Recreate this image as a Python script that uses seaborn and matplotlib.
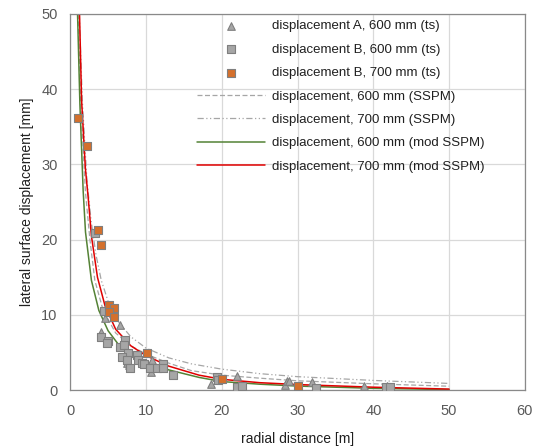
import numpy as np
import pandas as pd
import matplotlib
matplotlib.use('Agg')
import matplotlib.pyplot as plt
import seaborn as sns

# 측정값 (ts)
a600_x = [4.09, 4.55, 6.55, 6.6, 7.5, 7.8, 10.8, 10.65, 12.2, 18.55, 22.0, 28.4, 28.6, 28.9, 31.9, 38.8, 41.8]
a600_y = [7.8, 9.55, 8.6, 5.9, 3.55, 3.3, 4.05, 2.45, 2.9, 0.8, 1.95, 0.75, 1.24, 1.2, 1.05, 0.62, 0.5]

b600_x = [3.3, 4.1, 4.5, 4.97, 4.84, 6.6, 7.26, 7.12, 7.6, 6.86, 7.48, 7.83, 8.88, 8.93, 9.45, 9.75,
          10.55, 11.4, 12.2, 12.2, 13.5, 19.35, 19.5, 22.0, 22.7, 32.4, 41.7, 42.2]
b600_y = [20.9, 7.05, 10.5, 6.6, 6.25, 5.7, 6.65, 6.0, 5.0, 4.45, 4.0, 3.0, 4.65, 4.0, 3.68, 3.45,
          2.9, 2.9, 3.45, 2.9, 2.05, 1.75, 1.3, 0.38, 0.62, 0.25, 0.45, 0.4]

b700_x = [0.97, 2.24, 3.7, 4.13, 5.06, 5.8, 5.15, 5.8, 10.2, 20.0, 30.1]
b700_y = [36.2, 32.4, 21.3, 19.3, 11.3, 10.95, 10.4, 9.75, 5.0, 1.5, 0.55]

# 모델 곡선 (SSPM / mod SSPM)
sspm600_x = [1.05, 1.4, 2.0, 2.6, 3.25, 4.35, 6.0, 8.0, 10.0, 13.0, 16.0, 20.0, 25.0, 30.0, 40.0, 50.0]
sspm600_y = [50.0, 38.0, 26.5, 20.0, 14.6, 10.6, 7.6, 5.9, 4.8, 3.6, 2.6, 2.0, 1.6, 1.25, 0.85, 0.53]

sspm700_x = [1.2, 1.6, 2.2, 2.75, 3.4, 4.1, 5.2, 6.5, 8.0, 10.0, 13.0, 16.0, 20.0, 25.0, 30.0, 40.0, 50.0]
sspm700_y = [50.0, 38.5, 28.0, 22.6, 18.0, 14.6, 11.2, 8.9, 7.1, 5.6, 4.3, 3.5, 2.8, 2.2, 1.8, 1.3, 0.9]

mod600_x = [0.97, 1.28, 1.71, 2.02, 2.8, 3.78, 5.0, 6.5, 8.0, 10.0, 13.0, 17.0, 20.0, 25.0, 30.0, 40.0, 50.0]
mod600_y = [50.0, 38.0, 26.5, 21.0, 14.6, 10.6, 7.9, 5.9, 4.7, 3.77, 2.7, 1.7, 1.15, 0.8, 0.55, 0.25, 0.08]

mod700_x = [1.23, 1.5, 2.0, 2.4, 2.8, 3.6, 4.6, 6.0, 8.0, 10.0, 13.0, 17.0, 20.0, 25.0, 30.0, 40.0, 50.0]
mod700_y = [50.0, 38.6, 29.5, 25.3, 20.5, 15.0, 11.2, 8.1, 5.9, 4.6, 3.2, 2.0, 1.45, 1.0, 0.75, 0.4, 0.15]

sns.set_style('whitegrid')
plt.rcParams['font.family'] = ['Liberation Sans', 'DejaVu Sans']

fig = plt.figure(figsize=(5.4, 4.48), dpi=100)
ax = fig.add_axes([0.13, 0.129, 0.842, 0.84])

grey_fill = '#a6a6a6'
grey_edge = '#7f7f7f'

sns.lineplot(x=sspm600_x, y=sspm600_y, color='#a6a6a6', lw=0.9, linestyle=(0, (4, 2)),
             label='displacement, 600 mm (SSPM)', ax=ax, sort=False, zorder=2)
sns.lineplot(x=sspm700_x, y=sspm700_y, color='#a6a6a6', lw=0.9, linestyle=(0, (5, 2, 1, 2, 1, 2)),
             label='displacement, 700 mm (SSPM)', ax=ax, sort=False, zorder=2)
sns.lineplot(x=mod600_x, y=mod600_y, color='#548235', lw=1.1,
             label='displacement, 600 mm (mod SSPM)', ax=ax, sort=False, zorder=2)
sns.lineplot(x=mod700_x, y=mod700_y, color='#e00000', lw=1.1,
             label='displacement, 700 mm (mod SSPM)', ax=ax, sort=False, zorder=2)

sns.scatterplot(x=a600_x, y=a600_y, marker='^', s=30, color=grey_fill, edgecolor=grey_edge,
                linewidth=0.8, label='displacement A, 600 mm (ts)', ax=ax, zorder=3)
sns.scatterplot(x=b600_x, y=b600_y, marker='s', s=34, color=grey_fill, edgecolor=grey_edge,
                linewidth=0.8, label='displacement B, 600 mm (ts)', ax=ax, zorder=3)
sns.scatterplot(x=b700_x, y=b700_y, marker='s', s=34, color='#d4702c', edgecolor=grey_edge,
                linewidth=0.8, label='displacement B, 700 mm (ts)', ax=ax, zorder=4)

ax.set_xlim(0, 60)
ax.set_ylim(0, 50)
ax.set_xticks(range(0, 61, 10))
ax.set_yticks(range(0, 51, 10))
ax.grid(True, color='#d9d9d9', lw=0.9)
ax.tick_params(axis='both', length=0, labelsize=10.5, labelcolor='#595959')
ax.tick_params(axis='x', pad=10)
ax.tick_params(axis='y', pad=9)
for s in ax.spines.values():
    s.set_color('#898989')
    s.set_linewidth(0.9)

ax.set_xlabel('radial distance [m]', fontsize=10, color='#202020', labelpad=10)
ax.set_ylabel('lateral surface displacement [mm]', fontsize=10, color='#202020', labelpad=5)

handles, labels = ax.get_legend_handles_labels()
order = [4, 5, 6, 0, 1, 2, 3]
leg = ax.legend([handles[i] for i in order], [labels[i] for i in order],
                loc='upper left', bbox_to_anchor=(197 / 540, 1 - 20 / 448),
                bbox_transform=fig.transFigure, frameon=False, fontsize=9.5,
                handlelength=5.15, handletextpad=0.53, labelspacing=0.85, borderpad=0,
                borderaxespad=0)
for t in leg.get_texts():
    t.set_color('#202020')

fig.savefig('out.png', dpi=100)
